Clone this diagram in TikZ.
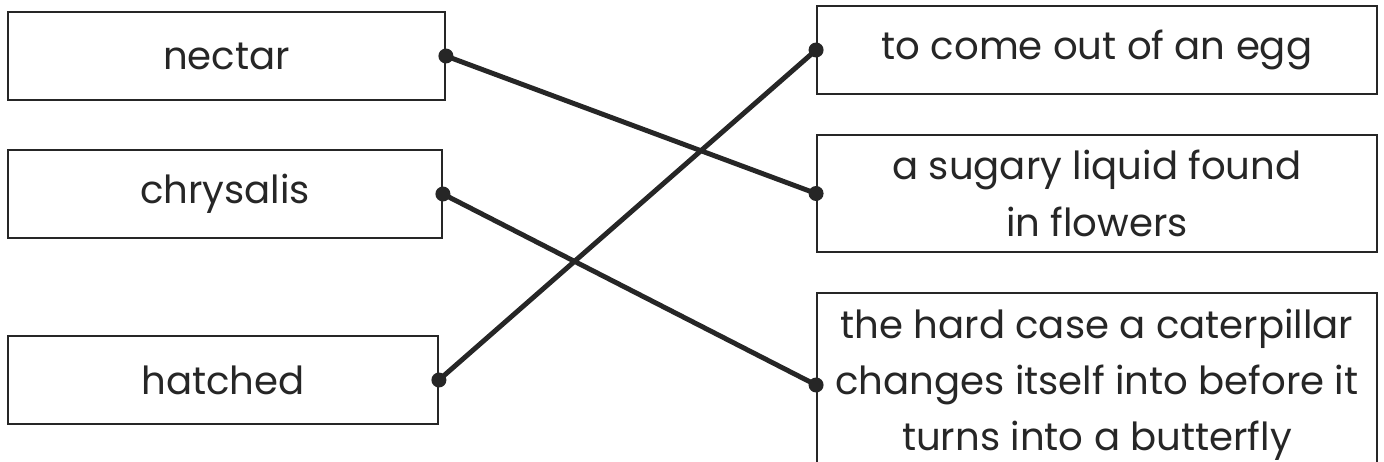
\documentclass[tikz,border=0pt]{standalone}
\usepackage{fontspec}
\setmainfont{Poppins}
\usepackage{tikz}
\tikzset{
    card/.style = {draw=black!85, line width=1.1pt, minimum height=1.76cm, inner sep=0pt, align=center, text=black!85, font=\fontsize{22}{32}\selectfont},
    link/.style = {line width=2.8pt, black!85},
    dot/.style = {fill=black!85}
}

\begin{document}
\begin{tikzpicture}[x=0.02cm, y=-0.02cm]
        % page and clipping
        \clip (0, 0) rectangle (1384, 462);
        \fill[white] (0, 0) rectangle (1384, 462);
        % words on the left
        \node[card, minimum width=8.74cm] (nectar) at (226.5, 56) {nectar};
        \node[card, minimum width=8.68cm] (chrysalis) at (225, 194) {chrysalis};
        \node[card, minimum width=8.6cm] (hatched) at (223, 380) {hatched};
        % meanings on the right
        \node[card, minimum width=11.2cm] (egg) at (1097, 50) {to come out of an egg};
        \node[card, minimum width=11.2cm, minimum height=2.34cm] (sugar) at (1097, 193.5) {a sugary liquid found\\in flowers};
        \node[card, minimum width=11.2cm, minimum height=3.68cm] (case) at (1097, 385) {the hard case a caterpillar\\changes itself into before it\\turns into a butterfly};
        % matching lines
        \draw[link] (nectar.east) -- (sugar.west);
        \draw[link] (chrysalis.east) -- (case.west);
        \draw[link] (hatched.east) -- (egg.west);
        \foreach \n in {nectar, chrysalis, hatched}{
            \fill[dot] (\n.east) circle (0.15cm);
        }
        \foreach \n in {egg, sugar, case}{
            \fill[dot] (\n.west) circle (0.15cm);
        }
    \end{tikzpicture}
\end{document}
